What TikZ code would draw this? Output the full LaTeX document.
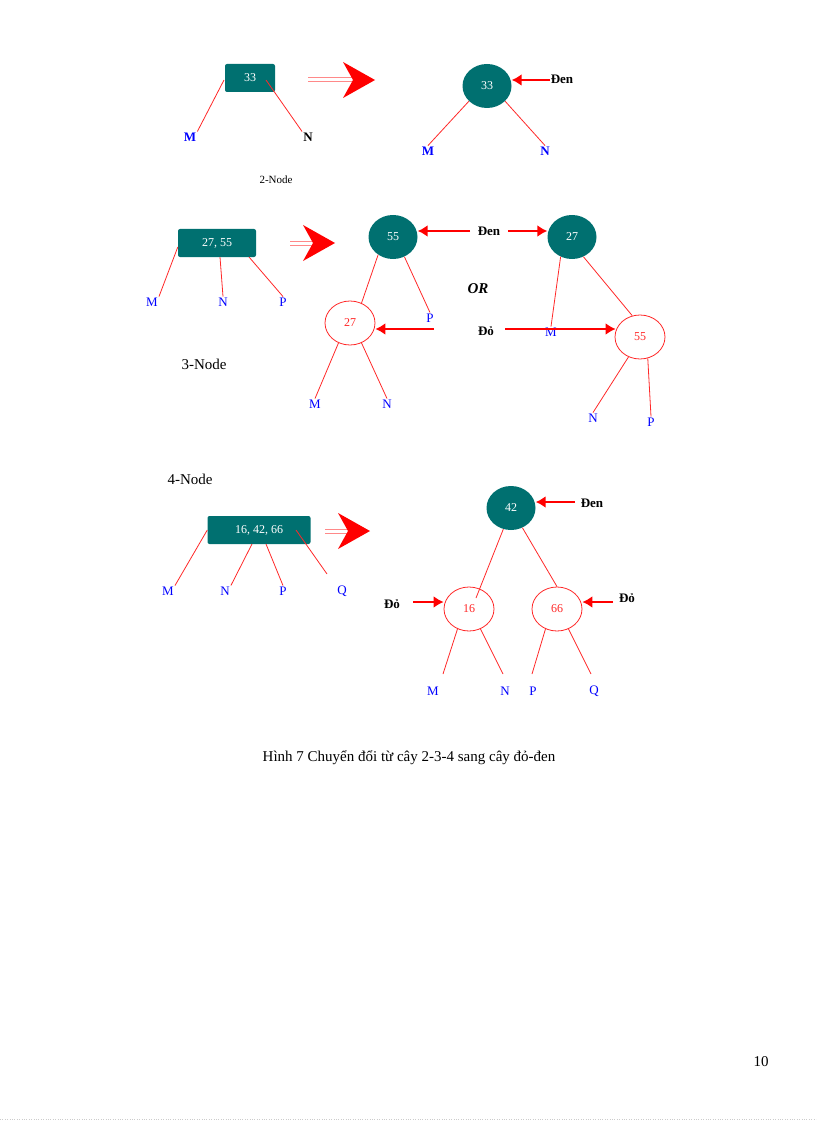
\documentclass[tikz,border=0pt]{standalone}
\usepackage{fontspec}
\setmainfont{Liberation Serif}
\usetikzlibrary{shapes.geometric,arrows.meta}
\definecolor{teal2}{RGB}{0,112,112}
\definecolor{lred}{RGB}{255,40,40}
\begin{document}
\begin{tikzpicture}[x=1pt,y=-1pt,
 box/.style={fill=teal2,rounded corners=2pt,text=white,font=\fontsize{12}{14}\selectfont,inner sep=0pt},
 blk/.style={ellipse,fill=teal2,text=white,font=\fontsize{12}{14}\selectfont,minimum width=49pt,minimum height=44pt,inner sep=0pt},
 rd/.style={ellipse,draw=lred,text=lred,fill=white,line width=0.8pt,font=\fontsize{12}{14}\selectfont,minimum width=50pt,minimum height=44pt,inner sep=0pt},
 lf/.style={text=blue,font=\fontsize{13}{14}\selectfont,inner sep=1pt},
 lfb/.style={text=blue,font=\bfseries\fontsize{13}{14}\selectfont,inner sep=1pt},
 lbl/.style={font=\bfseries\fontsize{13}{14}\selectfont,inner sep=1pt},
 ln/.style={draw=lred,line width=0.8pt},
 ar/.style={draw=red,line width=2pt,-{Latex[length=10pt,width=12pt]}}]
\useasboundingbox (0,0) rectangle (816,1123);
\newcommand{\bigarrow}[3]{%
 \draw[lred!55,line width=1pt] (#1,#3-2) -- (#2-10,#3-2) (#1,#3+2) -- (#2-10,#3+2);
 \fill[red] (#2,#3) -- (#2-32,#3-18) -- (#2-22,#3) -- (#2-32,#3+18) -- cycle;}
% ---- 2-node
\node[box,minimum width=50pt,minimum height=28pt] (b33) at (250,78) {33};
\node[lfb] (m1) at (190,137) {M};
\node[lbl] (n1) at (308,137) {N};
\draw[ln] (224,80) -- (m1.north east);
\draw[ln] (266,80) -- (n1.north west);
\bigarrow{308}{375}{80}
\node[blk] (c33) at (487,86) {33};
\node[lfb] (m2) at (428,151) {M};
\node[lfb] (n2) at (545,151) {N};
\draw[ln] (c33.220) -- (m2.north);
\draw[ln] (c33.-40) -- (n2.north);
\node[lbl] (den1) at (562,79) {Đen};
\draw[ar] (den1.west |- 0,80) -- (c33.east |- 0,80);
\node[font=\fontsize{11}{12}\selectfont] (t2) at (276,180) {2-Node};
% ---- 3-node
\node[box,minimum width=78pt,minimum height=28pt] (b2755) at (217,243) {27, 55};
\node[lf] (m3) at (152,302) {M};
\node[lf] (n3) at (223,302) {N};
\node[lf] (p3) at (283,302) {P};
\draw[ln] (b2755.west) ++(0,4) -- (m3.north east);
\draw[ln] (220,257) -- (n3.north);
\draw[ln] (249,257) -- (p3.north);
\bigarrow{290}{335}{243}
\node[blk] (c55) at (393,237) {55};
\node[blk] (c27) at (572,237) {27};
\node[lbl] (den2) at (489,231) {Đen};
\draw[ar] (470,231) -- (c55.east |- 0,231);
\draw[ar] (508,231) -- (c27.west |- 0,231);
\node[font=\bfseries\itshape\fontsize{15}{17}\selectfont] (or) at (478,289) {OR};
\node[rd] (r27) at (350,323) {27};
\node[lf] (p4) at (430,318) {P};
\draw[ln] (c55.230) -- (r27.60);
\draw[ln] (c55.-60) -- (p4.north);
\node[lf] (m4) at (315,404) {M};
\node[lf] (n4) at (387,404) {N};
\draw[ln] (r27.240) -- (m4.north);
\draw[ln] (r27.-60) -- (n4.north);
\node[lf] (m5) at (551,332) {M};
\node[rd] (r55) at (640,337) {55};
\draw[ln] (c27.240) -- (m5.north);
\draw[ln] (c27.-60) -- (r55.110);
\node[lf] (n5) at (593,418) {N};
\node[lf] (p5) at (651,422) {P};
\draw[ln] (r55.240) -- (n5.north);
\draw[ln] (r55.-70) -- (p5.north);
\node[lbl] (do1) at (486,331) {Đỏ};
\draw[ar] (434,329) -- (r27.east |- 0,329);
\draw[ar] (505,329) -- ([xshift=1pt]r55.west |- 0,329);
\node[font=\fontsize{15}{17}\selectfont] (t3) at (204,364) {3-Node};
% ---- 4-node
\node[font=\fontsize{15}{17}\selectfont] (t4) at (190,479) {4-Node};
\node[box,minimum width=103pt,minimum height=28pt] (b4) at (259,530) {16, 42, 66};
\node[lf] (m6) at (168,591) {M};
\node[lf] (n6) at (225,591) {N};
\node[lf] (p6) at (283,591) {P};
\node[lf] (q6) at (342,591) {Q};
\draw[ln] (b4.west) -- (m6.north east);
\draw[ln] (252,544) -- (n6.north east);
\draw[ln] (266,544) -- (p6.north);
\draw[ln] (296,530) -- (327,574);
\bigarrow{325}{370}{531}
\node[blk] (c42) at (511,508) {42};
\node[lbl] (den3) at (592,503) {Đen};
\draw[ar] (575,502) -- (c42.east |- 0,502);
\node[rd] (r16) at (469,609) {16};
\node[rd] (r66) at (557,609) {66};
\draw[ln] (c42.250) -- (476,598);
\draw[ln] (c42.-60) -- (r66.north);
\node[lbl] (do2) at (392,604) {Đỏ};
\node[lbl] (do3) at (627,598) {Đỏ};
\draw[ar] (413,602) -- (r16.west |- 0,602);
\draw[ar] (613,602) -- (r66.east |- 0,602);
\node[lf] (m7) at (433,691) {M};
\node[lf] (n7) at (505,691) {N};
\node[lf] (p7) at (533,691) {P};
\node[lf] (q7) at (594,691) {Q};
\draw[ln] (r16.240) -- (443,674);
\draw[ln] (r16.-60) -- (503,674);
\draw[ln] (r66.240) -- (532,674);
\draw[ln] (r66.-60) -- (591,674);
% caption
\node[font=\fontsize{15}{17}\selectfont] (cap) at (409,758) {Hình 7 Chuyển đổi từ cây 2-3-4 sang cây đỏ-đen};
\node[font=\fontsize{15}{17}\selectfont] (pg) at (761,1062) {10};
\draw[gray!40,dotted] (0,1119) -- (816,1119);
\end{tikzpicture}
\end{document}
